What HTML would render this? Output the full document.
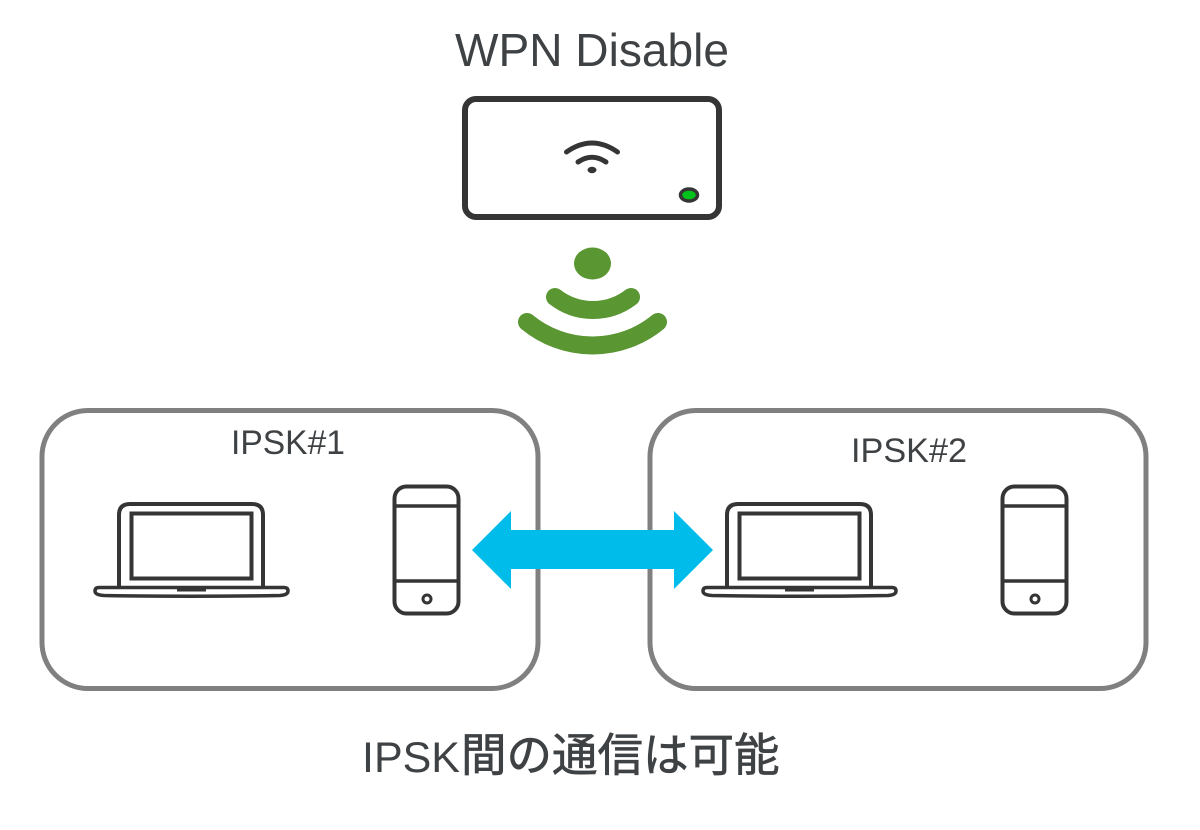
<!DOCTYPE html>
<html>
<head>
<meta charset="utf-8">
<style>
html,body{margin:0;padding:0;background:#fff;}
svg{display:block;}
text{font-family:"Liberation Sans","Noto Sans CJK JP",sans-serif;fill:#3f4244;}
</style>
</head>
<body>
<svg width="1200" height="830" viewBox="0 0 1200 830" xmlns="http://www.w3.org/2000/svg">
<rect width="1200" height="830" fill="#fff"/>

<text x="455" y="66" font-size="46" textLength="274" lengthAdjust="spacingAndGlyphs">WPN Disable</text>

<!-- Access point -->
<rect x="465" y="99" width="254" height="118" rx="11" fill="#fff" stroke="#353535" stroke-width="6"/>
<g fill="none" stroke="#353535" stroke-linecap="round">
<path d="M566.500 152 Q592 134 617.500 152" stroke-width="5"/>
<path d="M578 162 Q592 152.500 606 162" stroke-width="5"/>
</g>
<ellipse cx="592" cy="170" rx="4.500" ry="3.200" fill="#353535"/>
<ellipse cx="689" cy="195" rx="8.500" ry="6" fill="#00c21a" stroke="#353535" stroke-width="3.500"/>

<!-- Green wireless -->
<ellipse cx="592.500" cy="263.500" rx="18.500" ry="16" fill="#5a9632"/>
<g fill="none" stroke="#5a9632" stroke-linecap="round">
<path d="M555 297 A62 62 0 0 0 631 297" stroke-width="18"/>
<path d="M527 322 A103 103 0 0 0 658 322" stroke-width="18"/>
</g>

<!-- Groups -->
<rect x="42" y="410.500" width="496" height="278" rx="46" fill="#fff" stroke="#808080" stroke-width="5"/>
<rect x="650" y="410.500" width="496" height="278" rx="46" fill="#fff" stroke="#808080" stroke-width="5"/>

<text x="231" y="454" font-size="34.500" textLength="114" lengthAdjust="spacingAndGlyphs">IPSK#1</text>
<text x="851" y="462" font-size="34.500" textLength="116" lengthAdjust="spacingAndGlyphs">IPSK#2</text>

<!-- Devices left -->
<g fill="none" stroke="#353535">
<path d="M119 587 V515 Q119 504 130 504 H252 Q263 504 263 515 V587" stroke-width="4"/>
<rect x="131.500" y="513.500" width="120" height="65" stroke-width="4"/>
<path d="M99 587.500 H284 Q288 587.500 288 591 Q288 595 280 595.500 Q190 597 104 595.500 Q95 595 95 591 Q95 587.500 99 587.500 Z" stroke-width="3.500"/>
<path d="M177 589.500 H206" stroke-width="4"/>
<rect x="394.500" y="486.500" width="64" height="127" rx="12" stroke-width="4"/>
<path d="M394.500 506 H458.500 M394.500 581 H458.500" stroke-width="3.500"/>
<circle cx="427" cy="599" r="4" stroke-width="3"/>
</g>

<!-- Devices right -->
<g fill="none" stroke="#353535" transform="translate(608 0)">
<path d="M119 587 V515 Q119 504 130 504 H252 Q263 504 263 515 V587" stroke-width="4"/>
<rect x="131.500" y="513.500" width="120" height="65" stroke-width="4"/>
<path d="M99 587.500 H284 Q288 587.500 288 591 Q288 595 280 595.500 Q190 597 104 595.500 Q95 595 95 591 Q95 587.500 99 587.500 Z" stroke-width="3.500"/>
<path d="M177 589.500 H206" stroke-width="4"/>
<rect x="394.500" y="486.500" width="64" height="127" rx="12" stroke-width="4"/>
<path d="M394.500 506 H458.500 M394.500 581 H458.500" stroke-width="3.500"/>
<circle cx="427" cy="599" r="4" stroke-width="3"/>
</g>

<!-- Double arrow -->
<polygon points="472,550 511,511 511,530 674,530 674,511 713,550 674,589 674,569 511,569 511,589" fill="#00bceb"/>

<!-- Caption -->
<text x="362" y="772" font-size="43" textLength="98" lengthAdjust="spacingAndGlyphs">IPSK</text>
<text x="461" y="771" font-size="45.500" stroke="#3f4244" stroke-width="0.700">間の通信は可能</text>
</svg>
</body>
</html>
